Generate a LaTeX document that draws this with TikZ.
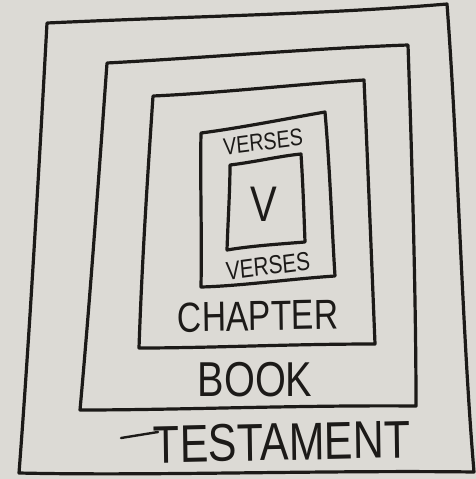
\documentclass[tikz,border=0pt]{standalone}
\usepackage{fontspec}
\setmainfont{Liberation Sans}
\definecolor{paper}{RGB}{220,218,213}
\definecolor{ink}{RGB}{28,26,24}
\begin{document}
\begin{tikzpicture}[x=1pt,y=-1pt,
  sketch/.style={draw=ink,line width=3.2pt,line join=round,line cap=round},
  lbl/.style={text=ink,inner sep=0pt,anchor=center}]
\fill[paper] (0,0) rectangle (476,479);
\useasboundingbox (0,0) rectangle (476,479);
% testament
\coordinate (t1) at (47,23);  \coordinate (t2) at (447,4);
\coordinate (t3) at (474,472); \coordinate (t4) at (19,473);
% book
\coordinate (b1) at (107,63); \coordinate (b2) at (408,45);
\coordinate (b3) at (416,406); \coordinate (b4) at (80,410);
% chapter
\coordinate (c1) at (153,96); \coordinate (c2) at (364,80);
\coordinate (c3) at (375,344); \coordinate (c4) at (139,348);
% verses
\coordinate (v1) at (201,133); \coordinate (v2) at (325,112);
\coordinate (v3) at (335,276); \coordinate (v4) at (201,287);
% inner V
\coordinate (i1) at (230,165); \coordinate (i2) at (301,154);
\coordinate (i3) at (305,242); \coordinate (i4) at (227,250);
\draw[sketch] (t1) .. controls (200,16) and (330,14) .. (t2)
  .. controls (458,150) and (462,330) .. (t3)
  .. controls (330,470) and (150,476) .. (t4)
  .. controls (30,330) and (40,150) .. cycle;
\draw[sketch] (b1) .. controls (200,58) and (320,48) .. (b2)
  .. controls (412,160) and (416,300) .. (b3)
  .. controls (300,405) and (180,410) .. (b4)
  .. controls (90,300) and (100,160) .. cycle;
\draw[sketch] (c1) .. controls (220,93) and (300,84) .. (c2)
  .. controls (368,170) and (372,270) .. (c3)
  .. controls (290,344) and (210,348) .. (c4)
  .. controls (142,260) and (148,170) .. cycle;
\draw[sketch] (v1) .. controls (240,128) and (290,118) .. (v2)
  .. controls (330,170) and (332,230) .. (v3)
  .. controls (290,279) and (240,286) .. (v4)
  .. controls (202,230) and (200,180) .. cycle;
\draw[sketch] (i1) .. controls (255,162) and (280,156) .. (i2)
  .. controls (303,185) and (304,215) .. (i3)
  .. controls (280,244) and (250,246) .. (i4)
  .. controls (228,220) and (230,190) .. cycle;
\node[lbl,font=\fontsize{24}{24}\selectfont,xscale=0.82,rotate=6] (vtop) at (263,142) {VERSES};
\node[lbl,font=\fontsize{50}{50}\selectfont,xscale=0.8] (vv) at (264,204) {V};
\node[lbl,font=\fontsize{26}{26}\selectfont,xscale=0.8,rotate=6] (vbot) at (268,266) {VERSES};
\node[lbl,font=\fontsize{42}{42}\selectfont,xscale=0.8,rotate=1] (chap) at (258,316) {CHAPTER};
\node[lbl,font=\fontsize{49}{49}\selectfont,xscale=0.81] (book) at (255,380) {BOOK};
\node[lbl,font=\fontsize{53}{53}\selectfont,xscale=0.81,rotate=1] (test) at (282,442) {TESTAMENT};
\coordinate (d1) at (121,438);
\coordinate (d2) at (158,432);
\draw[sketch,line width=2.4pt] (d1) -- (d2);
\end{tikzpicture}
\end{document}
